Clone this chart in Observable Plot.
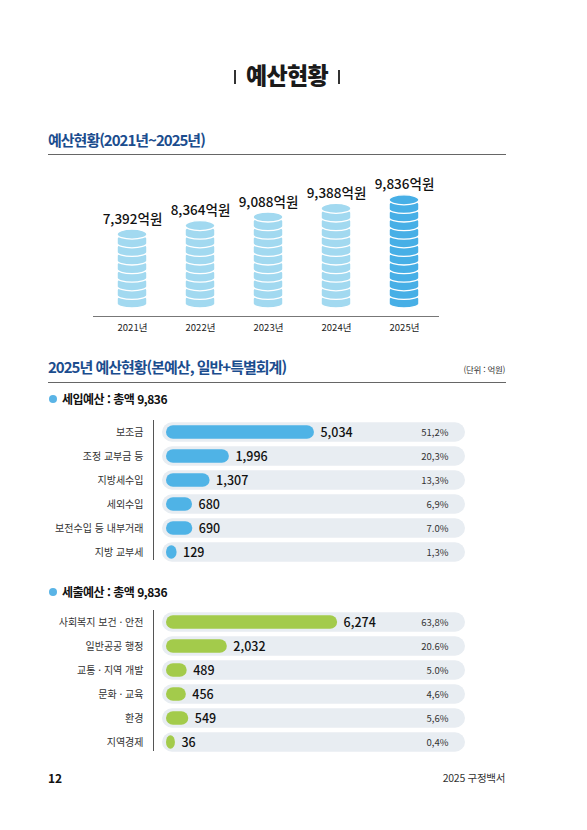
<!DOCTYPE html>
<html lang="ko">
<head>
<meta charset="utf-8">
<script src="https://cdn.jsdelivr.net/npm/d3@7"></script>
<script src="https://cdn.jsdelivr.net/npm/@observablehq/plot@0.6"></script>
<style>
  html, body { margin: 0; padding: 0; background: #ffffff; }
  body { font-family: "Noto Sans CJK KR", "Noto Sans", sans-serif; color: #111; }
  #page { position: relative; width: 587px; height: 830px; overflow: hidden; }
  .abs { position: absolute; white-space: nowrap; }
  .title { left: 0; width: 574px; top: 59px; height: 30px; line-height: 30px; text-align: center;
           font-size: 23px; font-weight: 900; letter-spacing: -0.6px; color: #1a1a1a; }
  .title .bar { display: inline-block; width: 1.6px; height: 14px; background: #333; vertical-align: middle;
                margin: 0 10px; position: relative; top: -1px; }
  .h2 { left: 48px; font-size: 15px; font-weight: 700; color: #1b4d8e; letter-spacing: -1px; line-height: 20px; }
  .rule { left: 48px; width: 458px; height: 1px; background: #666; }
  .unit { right: 82px; font-size: 8.5px; color: #333; line-height: 12px; letter-spacing: -0.3px; }
  .h3 { left: 62px; font-size: 12px; font-weight: 700; color: #111; letter-spacing: -0.5px; line-height: 16px; }
  .dot { width: 8px; height: 8px; border-radius: 50%; background: #5ab4e6; }
  .plot { position: absolute; left: 0; }
  .foot-l { left: 48px; top: 770px; font-size: 12px; font-weight: 700; line-height: 16px; }
  .foot-r { right: 82px; top: 770px; font-size: 10.5px; color: #333; line-height: 16px; letter-spacing: -0.3px; }
</style>
</head>
<body>
<div id="page">
  <div class="abs title"><span class="bar"></span>예산현황<span class="bar"></span></div>

  <div class="abs h2" style="top:130px;">예산현황(2021년~2025년)</div>
  <div class="abs rule" style="top:154px;"></div>

  <div class="abs h2" style="top:357px;">2025년 예산현황(본예산, 일반+특별회계)</div>
  <div class="abs unit" style="top:363px;">(단위 : 억원)</div>
  <div class="abs rule" style="top:382px;"></div>

  <div class="abs dot" style="left:49px; top:395px;"></div>
  <div class="abs h3" style="top:391px;">세입예산 : 총액 9,836</div>

  <div class="abs dot" style="left:49px; top:588px;"></div>
  <div class="abs h3" style="top:584px;">세출예산 : 총액 9,836</div>

  <div class="abs foot-l">12</div>
  <div class="abs foot-r">2025 구정백서</div>
</div>
<script>
// ---- Data: yearly budget (coin stacks) ----
const years = ["2021년", "2022년", "2023년", "2024년", "2025년"];
const budgets = [7392, 8364, 9088, 9388, 9836];
const coinCounts = [8, 9, 10, 11, 12];

// ---- Data: 2025 revenue (세입) ----
const revenueCats = ["보조금", "조정 교부금 등", "지방세수입", "세외수입", "보전수입 등 내부거래", "지방 교부세"];
const revenueValues = [5034, 1996, 1307, 680, 690, 129];
const revenuePct = ["51,2%", "20,3%", "13,3%", "6,9%", "7.0%", "1,3%"];

// ---- Data: 2025 expenditure (세출) ----
const expenseCats = ["사회복지 보건 · 안전", "일반공공 행정", "교통 · 지역 개발", "문화 · 교육", "환경", "지역경제"];
const expenseValues = [6274, 2032, 489, 456, 549, 36];
const expensePct = ["63,8%", "20.6%", "5.0%", "4,6%", "5,6%", "0,4%"];

const page = document.getElementById("page");
const fmt = d3.format(",");
const FONT = "Noto Sans CJK KR, Noto Sans, sans-serif";

// ---- Coin stack chart ----
const coins = [];
const tops = [];
years.forEach((year, k) => {
  const n = coinCounts[k];
  const current = k === years.length - 1;
  for (let i = 0; i < n; i++) coins.push({year, y1: i, y2: i + 1.6, current});
  tops.push({year, n, current, label: fmt(budgets[k]) + "억원"});
});

const coinChart = Plot.plot({
  width: 587,
  height: 190,
  marginLeft: 93,
  marginRight: 149,
  marginTop: 0,
  marginBottom: 34,
  style: {fontFamily: FONT, background: "transparent", overflow: "visible"},
  x: {type: "band", domain: years, range: [97, 438], padding: 0},
  y: {domain: [0, 14], range: [148, 27.6], axis: null},
  marks: [
    Plot.frame({anchor: "bottom", stroke: "#777", strokeWidth: 1}),
    Plot.barY(coins.filter(d => !d.current), {x: "year", y1: "y1", y2: "y2", insetLeft: 19.1, insetRight: 19.1, rx: 15, ry: 4.5, fill: "#a2d9f0", stroke: "white", strokeWidth: 1.3}),
    Plot.barY(coins.filter(d => d.current), {x: "year", y1: "y1", y2: "y2", insetLeft: 19.1, insetRight: 19.1, rx: 15, ry: 4.5, fill: "#47afe6", stroke: "white", strokeWidth: 1.3}),
    Plot.barY(tops.filter(d => !d.current), {x: "year", y1: "n", y2: d => d.n + 1.16, insetLeft: 19.1, insetRight: 19.1, rx: 15, ry: 5, fill: "#a2d9f0", stroke: "white", strokeWidth: 1.3}),
    Plot.barY(tops.filter(d => d.current), {x: "year", y1: "n", y2: d => d.n + 1.16, insetLeft: 19.1, insetRight: 19.1, rx: 15, ry: 5, fill: "#47afe6", stroke: "white", strokeWidth: 1.3}),
    Plot.text(tops, {x: "year", y: d => d.n + 1.16, text: "label", dy: -6, lineAnchor: "bottom", fontSize: 13.5, fontWeight: 500, fill: "#111", letterSpacing: -0.6}),
    Plot.axisX({tickSize: 0, tickPadding: 8, fontSize: 9.5, label: null, fill: "#222", letterSpacing: -0.5})
  ]
});
coinChart.classList.add("plot");
coinChart.style.top = "160px";
page.appendChild(coinChart);

// ---- Horizontal bar charts ----
function barChart(cats, values, pcts, color, top, yRange, marginBottom, x0, pxPer10k) {
  const data = cats.map((cat, i) => ({cat, value: values[i], pct: pcts[i]}));
  const chart = Plot.plot({
    width: 587,
    height: 170,
    marginLeft: 153,
    marginRight: 139,
    marginTop: 15,
    marginBottom,
    style: {fontFamily: FONT, background: "transparent", overflow: "visible"},
    x: {domain: [0, 10000], range: [x0, x0 + pxPer10k], axis: null},
    y: {type: "band", domain: cats, range: yRange, padding: 0},
    marks: [
      Plot.barX(data, {y: "cat", x1: () => 0, x2: () => (465 - x0) / pxPer10k * 10000, insetLeft: -(x0 - 162), insetTop: 2.3, insetBottom: 2.3, rx: 10, fill: "#e8edf2"}),
      Plot.barX(data, {y: "cat", x1: () => 0, x2: "value", insetLeft: -(x0 - 166), insetTop: 5.3, insetBottom: 5.3, rx: 7, fill: color}),
      Plot.text(data, {y: "cat", x: "value", text: d => fmt(d.value), dx: 6, textAnchor: "start", fontSize: 12.5, fontWeight: 500, fill: "#111", letterSpacing: -0.4}),
      Plot.text(data, {y: "cat", text: "pct", frameAnchor: "right", textAnchor: "end", fontSize: 9.5, fill: "#333", letterSpacing: -0.6}),
      Plot.frame({anchor: "left", stroke: "#555", strokeWidth: 1}),
      Plot.axisY({tickSize: 0, tickPadding: 10, fontSize: 10, label: null, fill: "#333", letterSpacing: -0.3})
    ]
  });
  chart.classList.add("plot");
  chart.style.top = top + "px";
  page.appendChild(chart);
}

barChart(revenueCats, revenueValues, revenuePct, "#4fb3e6", 405, [12.7, 160.3], 16, 173, 280);
barChart(expenseCats, expenseValues, expensePct, "#a3cb4b", 595, [12.6, 161.4], 15, 174, 260);
</script>
</body>
</html>
